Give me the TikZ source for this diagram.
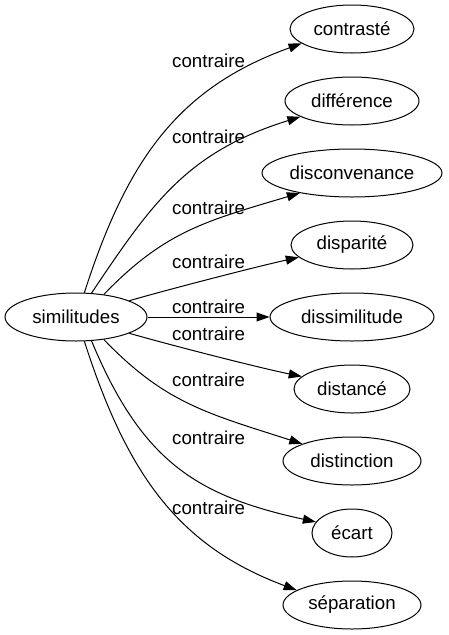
\documentclass[tikz,border=0pt]{standalone}
\usepackage{fontspec}
\setmainfont{Liberation Sans}
\usetikzlibrary{shapes.geometric,arrows.meta}
\begin{document}
\begin{tikzpicture}[x=1pt,y=-1pt,
  nd/.style={ellipse,draw,line width=1pt,inner sep=0pt,minimum height=48pt,font=\fontsize{18.7}{22}\selectfont},
  lbl/.style={anchor=base west,inner sep=0pt,font=\fontsize{18.7}{22}\selectfont},
  conn/.style={line width=1pt,-{Triangle[length=13pt,width=9pt]}}]
\useasboundingbox (0,0) rectangle (448,635);
\node[nd,minimum width=142pt] (sim) at (76,317) {similitudes};
\node[nd,minimum width=124pt] (c1) at (352,29) {contrasté};
\node[nd,minimum width=134pt] (c2) at (352,101) {différence};
\node[nd,minimum width=180pt] (c3) at (352,173) {disconvenance};
\node[nd,minimum width=122pt] (c4) at (352,245) {disparité};
\node[nd,minimum width=164pt] (c5) at (352,317) {dissimilitude};
\node[nd,minimum width=116pt] (c6) at (352,389) {distancé};
\node[nd,minimum width=138pt] (c7) at (352,461) {distinction};
\node[nd,minimum width=80pt] (c8) at (352,533) {écart};
\node[nd,minimum width=138pt] (c9) at (352,605) {séparation};
\draw[conn] (sim.71.6) .. controls (127,160) and (178,88) .. (c1.196);
\draw[conn] (sim.57.4) .. controls (152,203) and (187,152) .. (c2.197.7);
\draw[conn] (sim.39.2) .. controls (165,231) and (206,221) .. (c3.201.8);
\draw[conn] (sim.17.5) .. controls (170,289) and (255,267) .. (c4.193);
\draw[conn] (sim.east) -- (c5.west);
\draw[conn] (sim.-17.5) .. controls (170,345) and (260,368) .. (c6.166.5);
\draw[conn] (sim.-39.2) .. controls (165,403) and (206,413) .. (c7.161.6);
\draw[conn] (sim.-57.4) .. controls (142,462) and (197,496) .. (c8.163.9);
\draw[conn] (sim.-71.6) .. controls (127,474) and (178,546) .. (c9.165.2);
\node[lbl] (l1) at (172,67) {contraire};
\node[lbl] (l2) at (172,143) {contraire};
\node[lbl] (l3) at (172,214) {contraire};
\node[lbl] (l4) at (172,268) {contraire};
\node[lbl] (l5) at (172,313) {contraire};
\node[lbl] (l6) at (172,340) {contraire};
\node[lbl] (l7) at (172,386) {contraire};
\node[lbl] (l8) at (172,444) {contraire};
\node[lbl] (l9) at (172,514) {contraire};
\end{tikzpicture}
\end{document}
